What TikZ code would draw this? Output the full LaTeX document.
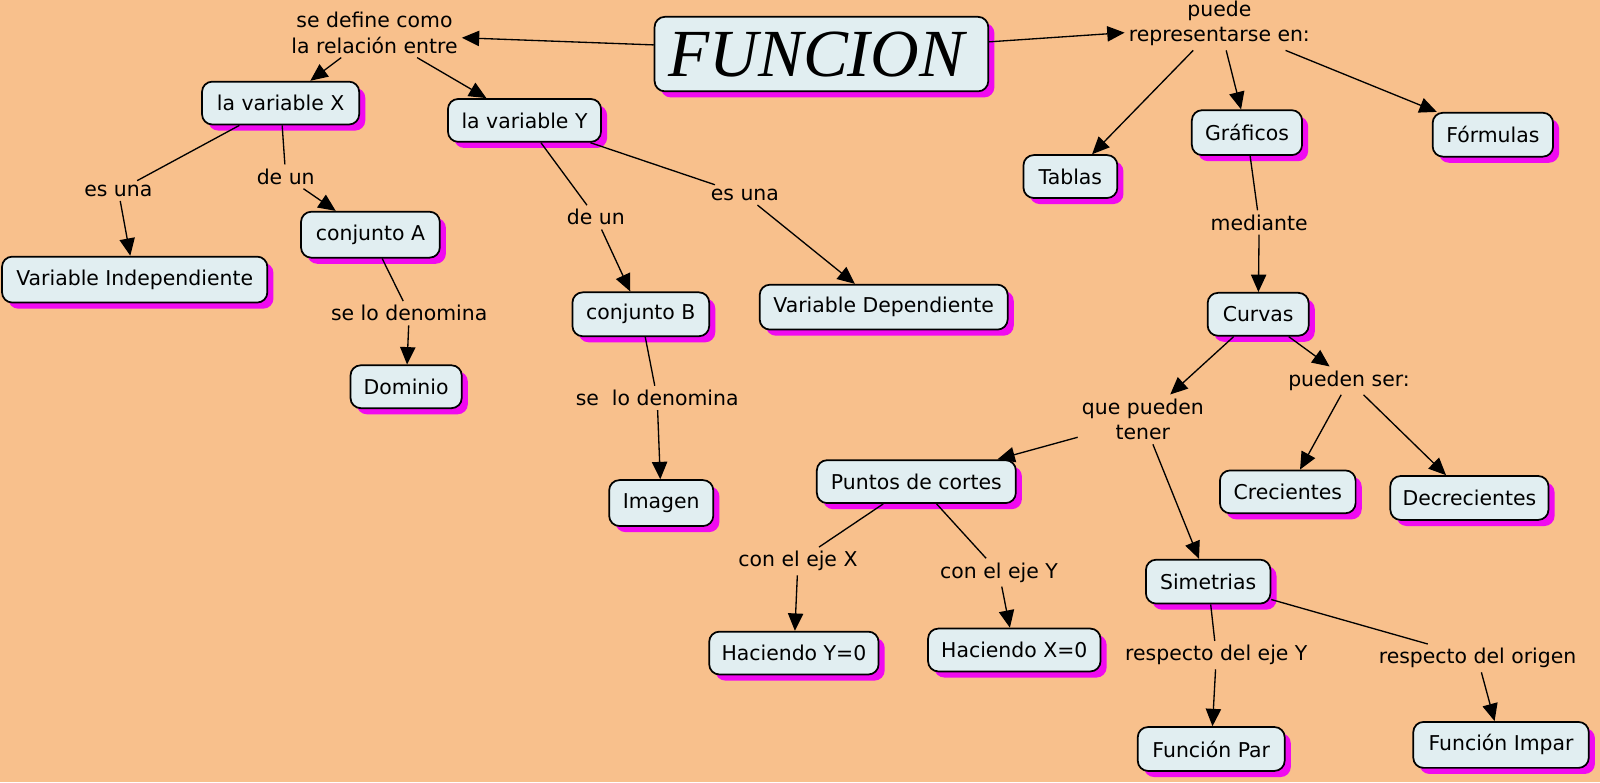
\documentclass[tikz,border=0pt]{standalone}
\usepackage{fontspec}
\setmainfont{DejaVu Sans}
\newfontfamily\timesf{Liberation Serif}
\usetikzlibrary{shadows,arrows.meta}
\definecolor{bg}{RGB}{248,192,140}
\definecolor{boxfill}{RGB}{225,238,241}
\definecolor{shad}{RGB}{240,10,240}
\tikzset{
  box/.style={draw=black, line width=1.7pt, rounded corners=10pt, fill=boxfill,
    minimum height=42pt, inner sep=2pt, font=\fontsize{20}{24}\selectfont,
    drop shadow={shadow xshift=6pt, shadow yshift=-6pt, fill=shad, opacity=1}},
  lab/.style={inner sep=4pt, align=center, font=\fontsize{20}{25}\selectfont},
  ln/.style={line width=1.3pt},
  arr/.style={line width=1.3pt, -{Triangle[length=17pt,width=15pt]}}
}
\begin{document}
\begin{tikzpicture}[x=1pt,y=-1pt]
\useasboundingbox[fill=bg] (0,0) rectangle (1568,766.5);
% boxes
\node[box, minimum width=327pt, minimum height=73pt, font=\timesf\itshape\fontsize{66}{70}\selectfont, text width=300pt, align=left] (fun) at (805,53) {FUNCION};
\node[box, minimum width=154pt] (vx) at (275,101) {la variable X};
\node[box, minimum width=150pt] (vy) at (514,118) {la variable Y};
\node[box, minimum width=260pt, minimum height=45pt] (vi) at (132,274) {Variable Independiente};
\node[box, minimum width=136pt, minimum height=45pt] (ca) at (363,230) {conjunto A};
\node[box, minimum width=109pt] (dom) at (398,379) {Dominio};
\node[box, minimum width=134pt, minimum height=43pt] (cb) at (628,308) {conjunto B};
\node[box, minimum width=102pt, minimum height=45pt] (img) at (648,493) {Imagen};
\node[box, minimum width=243pt, minimum height=44pt] (vd) at (866,301) {Variable Dependiente};
\node[box, minimum width=92pt] (tab) at (1049,173) {Tablas};
\node[box, minimum width=108pt, minimum height=44pt] (gra) at (1222,130) {Gráficos};
\node[box, minimum width=118pt, minimum height=43pt] (for) at (1463,132) {Fórmulas};
\node[box, minimum width=99pt] (cur) at (1233,308) {Curvas};
\node[box, minimum width=195pt] (pc) at (898,472) {Puntos de cortes};
\node[box, minimum width=133pt] (cre) at (1262,482) {Crecientes};
\node[box, minimum width=155pt, minimum height=43pt] (dec) at (1440,488) {Decrecientes};
\node[box, minimum width=122pt, minimum height=43pt] (sim) at (1184,570) {Simetrias};
\node[box, minimum width=166pt] (hy) at (778,640) {Haciendo Y=0};
\node[box, minimum width=169pt] (hx) at (994,637) {Haciendo X=0};
\node[box, minimum width=144pt, minimum height=43pt] (fp) at (1187,734) {Función Par};
\node[box, minimum width=172pt, minimum height=45pt] (fi) at (1471,730) {Función Impar};
% labels
\node[lab] (sdc) at (367,32) {se define como\\la relación entre};
\node[lab] (pre) at (1195,23) {puede\\representarse en:};
\node[lab] (eu1) at (116,187) {es una};
\node[lab] (du1) at (280,173) {de un};
\node[lab] (sld1) at (401,307) {se lo denomina};
\node[lab] (du2) at (584,213) {de un};
\node[lab] (eu2) at (730,191) {es una};
\node[lab] (sld2) at (644,390) {se\ \ lo denomina};
\node[lab] (med) at (1234,218) {mediante};
\node[lab] (qpt) at (1120,411) {que pueden\\tener};
\node[lab] (ps) at (1322,373) {pueden ser:};
\node[lab] (cex) at (782,550) {con el eje X};
\node[lab] (cey) at (979,561) {con el eje Y};
\node[lab] (rey) at (1192,642) {respecto del eje Y};
\node[lab] (reo) at (1448,645) {respecto del origen};
% connectors
\draw[arr] ([yshift=9pt]fun.west) -- ([yshift=-5pt]sdc.east);
\draw[arr] ([yshift=12pt]fun.east) -- ([yshift=-9pt]pre.west);
\draw[arr] (sdc) -- (vx);
\draw[arr] (sdc) -- (vy);
\draw[ln] (vx) -- (eu1);
\draw[arr] (eu1) -- (vi);
\draw[ln] (vx) -- (du1);
\draw[arr] (du1) -- (ca);
\draw[ln] (ca) -- (sld1);
\draw[arr] (sld1) -- (dom);
\draw[ln] (vy) -- (du2);
\draw[arr] (du2) -- (cb);
\draw[ln] (vy) -- (eu2);
\draw[arr] (eu2) -- (vd);
\draw[ln] (cb) -- (sld2);
\draw[arr] (sld2) -- (img);
\draw[arr] (pre) -- (tab);
\draw[arr] (pre) -- (gra);
\draw[arr] (pre) -- (for);
\draw[ln] (gra) -- (med);
\draw[arr] (med) -- (cur);
\draw[arr] (cur) -- (qpt);
\draw[arr] (cur) -- (ps);
\draw[arr] (ps) -- (cre);
\draw[arr] (ps) -- (dec);
\draw[arr] (qpt) -- (pc);
\draw[arr] (qpt) -- (sim);
\draw[ln] (pc) -- (cex);
\draw[arr] (cex) -- (hy);
\draw[ln] (pc) -- (cey);
\draw[arr] (cey) -- (hx);
\draw[ln] (sim) -- (rey);
\draw[arr] (rey) -- (fp);
\draw[ln] (sim) -- (reo);
\draw[arr] (reo) -- (fi);
\end{tikzpicture}
\end{document}
